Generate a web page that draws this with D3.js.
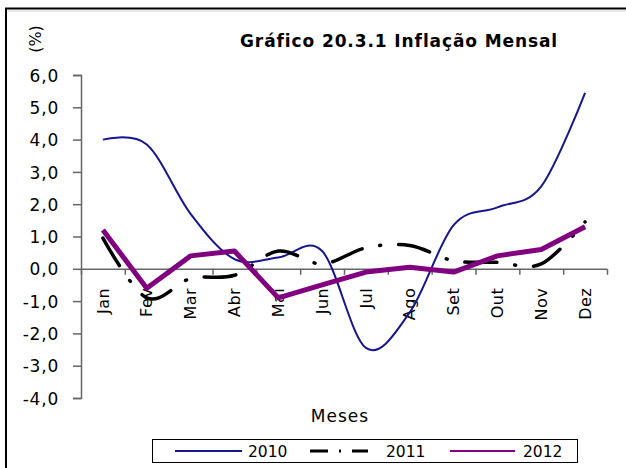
<!DOCTYPE html>
<html>
<head>
<meta charset="utf-8">
<script src="https://cdn.jsdelivr.net/npm/d3@7"></script>
<style>
  html, body { margin: 0; padding: 0; background: #fff; }
  svg { display: block; }
  text { font-family: "DejaVu Sans", Verdana, sans-serif; fill: #000; }
</style>
</head>
<body>
<svg id="chart" width="626" height="468"></svg>
<script>
// ---- data ----
const months = ["Jan","Fev","Mar","Abr","Mai","Jun","Jul","Ago","Set","Out","Nov","Dez"];
const values2010 = [4.0, 3.85, 1.7, 0.3, 0.35, 0.55, -2.45, -1.35, 1.35, 1.9, 2.55, 5.45];
const values2011 = [0.95, -0.9, -0.3, -0.2, 0.55, 0.15, 0.65, 0.72, 0.25, 0.2, 0.15, 1.45];
const values2012 = [1.2, -0.6, 0.4, 0.55, -0.9, -0.5, -0.1, 0.05, -0.1, 0.4, 0.6, 1.3];
const seriesNames = ["2010", "2011", "2012"];
const yTicks = [-4, -3, -2, -1, 0, 1, 2, 3, 4, 5, 6];
const titleText = "Gráfico 20.3.1 Inflação Mensal";
const yAxisTitle = "(%)";
const xAxisTitle = "Meses";

const svg = d3.select("#chart");

// frame
svg.append("path").attr("d", "M6,468V8.5H626").attr("fill", "none")
  .attr("stroke", "#000").attr("stroke-width", 2);
svg.append("line").attr("x1", 8).attr("x2", 626).attr("y1", 11).attr("y2", 11)
  .attr("stroke", "#d0d0d0").attr("stroke-width", 1);

const plotLeft = 81, plotRight = 607, plotTop = 75, plotBottom = 398;
const x = d3.scaleBand().domain(months).range([plotLeft, plotRight]).padding(0);
const xb = d3.scaleLinear().domain([0, months.length]).range([plotLeft, plotRight]);
const y = d3.scaleLinear().domain([-4, 6]).range([plotBottom, plotTop]);

const axisColor = "#666666";
const fmt = v => d3.format(".1f")(v).replace(".", ",").replace("−", "-");

// y axis
const gy = svg.append("g").attr("transform", `translate(${plotLeft},0)`)
  .call(d3.axisLeft(y).tickValues(yTicks).tickFormat(fmt).tickSize(8).tickPadding(14));
gy.select(".domain").attr("stroke", axisColor).attr("stroke-width", 1.5);
gy.selectAll(".tick line").attr("stroke", axisColor).attr("stroke-width", 1.5);
gy.selectAll(".tick text").attr("font-size", 17).attr("letter-spacing", 0.8)
  .attr("font-family", "DejaVu Sans").attr("fill", "#000").attr("dy", "0.36em");

// x axis ticks at band boundaries, on the zero line
const gx = svg.append("g").attr("transform", `translate(0,${y(0)})`)
  .call(d3.axisBottom(xb).ticks(12).tickFormat("").tickSize(6));
gx.select(".domain").attr("stroke", axisColor).attr("stroke-width", 1.5).attr("d", `M${plotLeft},0.5H${plotRight}`);
gx.selectAll(".tick line").attr("stroke", axisColor).attr("stroke-width", 1.5);

// x labels rotated
const gl = svg.append("g").attr("transform", `translate(0,${y(0)})`)
  .call(d3.axisBottom(x).tickSize(0).tickPadding(0));
gl.select(".domain").remove();
gl.selectAll(".tick text")
  .attr("font-size", 16).attr("letter-spacing", 0.5).attr("font-family", "DejaVu Sans")
  .attr("fill", "#000")
  .attr("text-anchor", "end")
  .attr("transform", "translate(0,19) rotate(-90)")
  .attr("x", 0).attr("y", 0).attr("dy", "0.35em");

// titles
svg.append("text").attr("x", 240).attr("y", 47).attr("font-size", 17)
  .attr("font-weight", "bold").attr("letter-spacing", 0.9).text(titleText);
svg.append("text").attr("transform", "translate(41,39) rotate(-90)")
  .attr("text-anchor", "middle").attr("font-size", 16).text(yAxisTitle);
svg.append("text").attr("x", 340).attr("y", 422).attr("text-anchor", "middle")
  .attr("font-size", 17).attr("letter-spacing", 1).text(xAxisTitle);

// lines
const cx = (d, i) => x(months[i]) + x.bandwidth() / 2;
const smooth = d3.line().x(cx).y(d => y(d)).curve(d3.curveCatmullRom.alpha(0));
const straight = d3.line().x(cx).y(d => y(d));

const styles = [
  { color: "#16168f", width: 2, dash: null, gen: smooth, data: values2010 },
  { color: "#000000", width: 3.5, dash: "32,18,1,18", gen: smooth, data: values2011 },
  { color: "#800080", width: 5, dash: null, gen: straight, data: values2012 }
];

styles.forEach(s => {
  svg.append("path").datum(s.data).attr("d", s.gen).attr("fill", "none")
    .attr("stroke", s.color).attr("stroke-width", s.width)
    .attr("stroke-linecap", s.dash ? "round" : "butt")
    .attr("stroke-linejoin", "round")
    .attr("stroke-dasharray", s.dash);
});

// legend
const lg = svg.append("g");
lg.append("rect").attr("x", 152.5).attr("y", 439.5).attr("width", 425).attr("height", 23)
  .attr("fill", "#fff").attr("stroke", "#000").attr("stroke-width", 1);
const legendPos = [
  { x1: 175, x2: 242, tx: 248 },
  { x1: 310, x2: 368, tx: 386 },
  { x1: 450, x2: 515, tx: 523 }
];
seriesNames.forEach((name, i) => {
  const s = styles[i], p = legendPos[i];
  lg.append("line").attr("x1", p.x1).attr("x2", p.x2).attr("y1", 451).attr("y2", 451)
    .attr("stroke", s.color).attr("stroke-width", i === 1 ? 3 : 2)
    .attr("stroke-dasharray", i === 1 ? "18,11,2,11" : null);
  lg.append("text").attr("x", p.tx).attr("y", 457).attr("font-size", 15.5).text(name);
});
</script>
</body>
</html>
